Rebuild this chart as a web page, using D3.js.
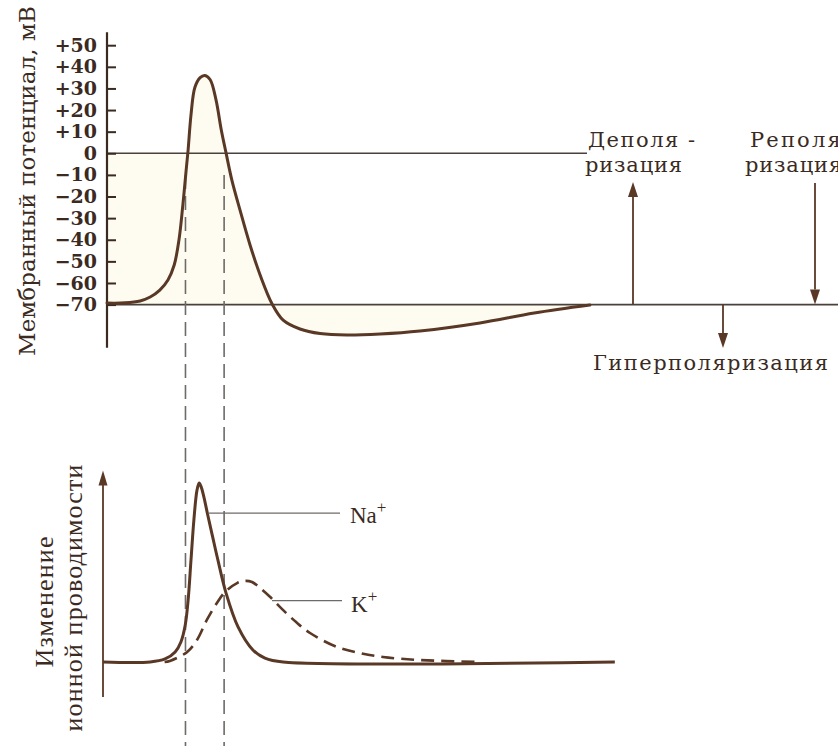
<!DOCTYPE html>
<html><head><meta charset="utf-8">
<script src="https://cdn.jsdelivr.net/npm/d3@7/dist/d3.min.js"></script>
<style>html,body{margin:0;padding:0;background:#fff;}svg{display:block;}</style>
</head><body>
<svg id="c" width="838" height="746"></svg>
<script>
// ---- data ----
const potTicks = [50,40,30,20,10,0,-10,-20,-30,-40,-50,-60,-70];
const potTickLabels = ["+50","+40","+30","+20","+10","0","\u221210","\u221220","\u221230","\u221240","\u221250","\u221260","\u221270"];
// membrane potential (time, ms ; mV)
const potT = [0,0.375,0.69,0.9,1.10,1.27,1.40,1.50,1.58,1.65,1.69,1.75,1.83,1.94,2.04,2.15,2.27,2.38,2.48,2.60,2.77,2.98,3.19,3.44,3.67,4.02,4.44,5.0,5.69,6.52,7.77,8.9,10.06];
const potV = [-69.3,-69.2,-68.3,-66.5,-63.3,-58.6,-51.7,-40,-24,-7.6,1.6,17.8,30.4,35,36,34,24.8,10.9,0.2,-12.3,-26.2,-42.4,-56.3,-69.7,-77.2,-81.3,-83.4,-84.1,-83.6,-82.2,-78.5,-73.9,-70.2];
// Na+ conductance (relative units)
const naT = [-0.083,0.9,1.21,1.42,1.54,1.63,1.69,1.75,1.81,1.875,1.92,1.96,2.02,2.10,2.20,2.31,2.48,2.73,3.04,3.29,3.67,10.58];
const naG = [0,0,1.7,5.6,11.2,20.7,34.6,57,79.3,96,100,98,92,82,70,57,38.5,19.6,6.7,2.2,0,0];
// K+ conductance (relative units)
const kT = [1.2,1.31,1.67,1.875,2.08,2.29,2.46,2.71,2.875,3.02,3.19,3.4,3.67,3.94,4.23,4.79,5.27,5.75,6.52,7.77];
const kG = [0,0.6,5.6,12.3,23.5,33,39.1,44.1,45.3,44.7,41.3,36.3,29,22.3,16.2,8.4,5,2.8,1.1,0];
const markerTimes = [1.635, 2.44];
const restLevel = -70, zeroLevel = 0;

// ---- layout ----
const svg = d3.select("#c");
const ink = "#3a2a22", curveCol = "#5a3826", lineCol = "#4a403c", dashCol = "#6e6a68";
const x = d3.scaleLinear().domain([0,10]).range([107,587]);
const yTop = d3.scaleLinear().domain([-70,50]).range([304.6,45.2]);
const yBot = d3.scaleLinear().domain([0,100]).range([662,483]);

const pot = potT.map((t,i)=>({t, v:potV[i]}));
const na = naT.map((t,i)=>({t, g:naG[i]}));
const kk = kT.map((t,i)=>({t, g:kG[i]}));
const tPeak = pot[d3.maxIndex(pot, d=>d.v)].t;

// faint fill
svg.append("path").datum(pot)
  .attr("fill","#fefcf1")
  .attr("d", d3.area().x(d=>x(d.t)).y0(yTop(restLevel))
      .y1(d=>yTop(d.t < tPeak ? Math.max(d.v, zeroLevel) : d.v))
      .curve(d3.curveCatmullRom.alpha(0.5)));

// reference lines
svg.append("line").attr("x1",x(0)).attr("x2",587).attr("y1",yTop(0)).attr("y2",yTop(0))
  .attr("stroke",lineCol).attr("stroke-width",1.6);
svg.append("line").attr("x1",x(0)).attr("x2",838).attr("y1",yTop(-70)).attr("y2",yTop(-70))
  .attr("stroke",lineCol).attr("stroke-width",1.6);

// dashed verticals
markerTimes.forEach(t=>{
  svg.append("line").attr("x1",x(t)).attr("x2",x(t)).attr("y1",yTop(-10)).attr("y2",746)
    .attr("stroke",dashCol).attr("stroke-width",1.6).attr("stroke-dasharray","14,7");
});

// top axis
const gAx = svg.append("g").attr("transform",`translate(${x(0)},0)`);
gAx.call(d3.axisLeft(yTop).tickValues(potTicks).tickSizeInner(-9).tickSizeOuter(0).tickPadding(10)
  .tickFormat((d,i)=>potTickLabels[i]));
gAx.select(".domain").remove();
gAx.selectAll(".tick line").attr("stroke",ink).attr("stroke-width",2);
gAx.selectAll(".tick text").attr("fill",ink).style("font-family","'DejaVu Serif'")
  .style("font-size","19px").style("font-weight","bold");
gAx.append("line").attr("x1",0).attr("x2",0).attr("y1",yTop(56)).attr("y2",yTop(-90))
  .attr("stroke",ink).attr("stroke-width",2.2);

// potential curve
svg.append("path").datum(pot).attr("fill","none").attr("stroke",curveCol).attr("stroke-width",3)
  .attr("stroke-linecap","round")
  .attr("d", d3.line().x(d=>x(d.t)).y(d=>yTop(d.v)).curve(d3.curveCatmullRom.alpha(0.5)));

// arrow helper
function arrow(x0, y0, y1){
  const dir = Math.sign(y1-y0), hl = 15, hw = 5;
  svg.append("line").attr("x1",x0).attr("x2",x0).attr("y1",y0).attr("y2",y1 - dir*hl)
    .attr("stroke",curveCol).attr("stroke-width",1.8);
  svg.append("path").attr("fill",curveCol)
    .attr("d",`M${x0},${y1} L${x0-hw},${y1-dir*hl} L${x0+hw},${y1-dir*hl} Z`);
}
arrow(633, yTop(-70), 182);
arrow(815, 183, yTop(-70));
arrow(723, yTop(-70), 348);

function txt(s, xx, yy, size, len, fam, opts={}){
  const t = svg.append("text").attr("x",xx).attr("y",yy).attr("fill",ink)
    .style("font-family",fam||"'DejaVu Serif'").style("font-size",size+"px").text(s);
  if(len){ t.attr("textLength",len).attr("lengthAdjust","spacing"); }
  if(opts.rot){ t.attr("transform",`rotate(-90 ${xx} ${yy})`); }
  if(opts.anchor){ t.attr("text-anchor",opts.anchor); }
  if(opts.bold){ t.style("font-weight","bold"); }
  return t;
}
txt("Деполя -", 588, 147, 21, 107);
txt("ризация", 585, 172, 21, 97);
txt("Реполя-", 750, 147, 21, 100);
txt("ризация", 745, 172, 21, 97);
txt("Гиперполяризация", 593, 370, 21, 235);
txt("Мембранный потенциал, мВ", 35, 356, 23, 350, null, {rot:true});

// bottom axis with arrow
const bx = x(0)-4;
svg.append("line").attr("x1",bx).attr("x2",bx).attr("y1",yBot(-19.5)).attr("y2",yBot(107)+14)
  .attr("stroke",curveCol).attr("stroke-width",1.8);
svg.append("path").attr("fill",curveCol)
  .attr("d",`M${bx},${yBot(107)} L${bx-4.5},${yBot(107)+15} L${bx+4.5},${yBot(107)+15} Z`);

// K curve (dashed)
svg.append("path").datum(kk).attr("fill","none").attr("stroke",curveCol).attr("stroke-width",2.6)
  .attr("stroke-dasharray","13,7")
  .attr("d", d3.line().x(d=>x(d.t)).y(d=>yBot(d.g)).curve(d3.curveCatmullRom.alpha(0.5)));
// Na curve
svg.append("path").datum(na).attr("fill","none").attr("stroke",curveCol).attr("stroke-width",3)
  .attr("stroke-linejoin","round")
  .attr("d", d3.line().x(d=>x(d.t)).y(d=>yBot(d.g)).curve(d3.curveCatmullRom.alpha(0.5)));

// leader lines + labels
svg.append("line").attr("x1",x(2.09)+1).attr("x2",340).attr("y1",yBot(83.2)).attr("y2",yBot(83.2))
  .attr("stroke",dashCol).attr("stroke-width",1.3);
svg.append("line").attr("x1",272).attr("x2",342).attr("y1",yBot(34.3)).attr("y2",yBot(34.3))
  .attr("stroke",dashCol).attr("stroke-width",1.3);
const na_t = txt("Na", 350, 523, 23, null, "'Liberation Serif'");
na_t.append("tspan").attr("dy",-10).style("font-size","17px").text("+");
const k_t = txt("K", 351, 612, 23, null, "'Liberation Serif'");
k_t.append("tspan").attr("dy",-10).style("font-size","17px").text("+");

txt("Изменение", 53, 602, 26, 131, "'Liberation Serif'", {rot:true, anchor:"middle"});
txt("ионной проводимости", 82, 598, 26, 267, "'Liberation Serif'", {rot:true, anchor:"middle"});
</script>
</body></html>
